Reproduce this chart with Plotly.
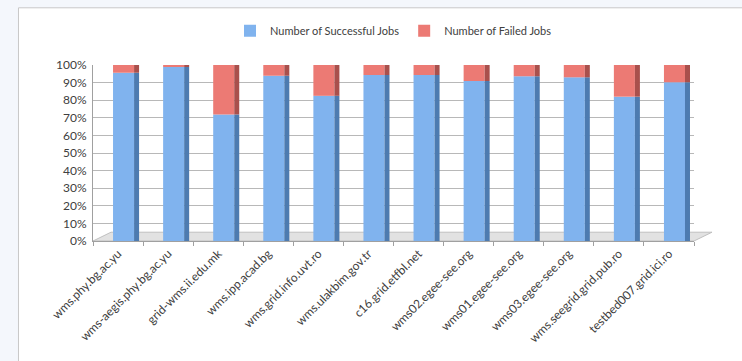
import plotly.graph_objects as go

hosts = ["wms.phy.bg.ac.yu", "wms-aegis.phy.bg.ac.yu", "grid-wms.ii.edu.mk", "wms.ipp.acad.bg",
         "wms.grid.info.uvt.ro", "wms.ulakbim.gov.tr", "c16.grid.etfbl.net", "wms02.egee-see.org",
         "wms01.egee-see.org", "wms03.egee-see.org", "wms.seegrid.grid.pub.ro", "testbed007.grid.ici.ro"]
successful_pct = [95.6, 98.9, 71.9, 93.9, 82.5, 94.3, 94.3, 90.9, 93.6, 93.0, 82.0, 90.2]
failed_pct = [round(100 - s, 1) for s in successful_pct]
y_ticks = [0, 10, 20, 30, 40, 50, 60, 70, 80, 90, 100]
y_tick_labels = [f"{v}%" for v in y_ticks]

BLUE = "#80b3ee"
BLUE_SIDE = "#4d7bb0"
RED = "#ec7a74"
RED_SIDE = "#a9504c"
FONT = "Lato, 'Liberation Sans', sans-serif"

fig = go.Figure()
# front faces
fig.add_trace(go.Bar(x=hosts, y=successful_pct, base=[0] * len(hosts), name="Number of Successful Jobs",
                     marker=dict(color=BLUE, line=dict(width=0)), width=0.42, offset=-0.1))
fig.add_trace(go.Bar(x=hosts, y=failed_pct, base=successful_pct, name="Number of Failed Jobs",
                     marker=dict(color=RED, line=dict(width=0)), width=0.42, offset=-0.1))
# side faces (depth effect)
fig.add_trace(go.Bar(x=hosts, y=successful_pct, base=[0] * len(hosts), showlegend=False, hoverinfo="skip",
                     marker=dict(color=BLUE_SIDE, line=dict(width=0)), width=0.1, offset=0.32))
fig.add_trace(go.Bar(x=hosts, y=failed_pct, base=successful_pct, showlegend=False, hoverinfo="skip",
                     marker=dict(color=RED_SIDE, line=dict(width=0)), width=0.1, offset=0.32))

fig.update_layout(
    width=742, height=361,
    barmode="overlay",
    paper_bgcolor="#f4f7fc",
    plot_bgcolor="rgba(0,0,0,0)",
    margin=dict(l=93, r=48, t=65, b=120),
    font=dict(family=FONT, size=11, color="#404040"),
    legend=dict(orientation="h", x=0.5, xanchor="center", y=0.955, yref="container", yanchor="top",
                font=dict(size=11, color="#404040"), traceorder="normal",
                bgcolor="rgba(0,0,0,0)"),
    shapes=[
        dict(type="rect", xref="paper", yref="paper", x0=-0.124, x1=1.2, y0=-1.0, y1=1.325,
             fillcolor="white", line=dict(color="#c8c8c8", width=1), layer="below"),
        dict(type="path", xref="paper", yref="paper",
             path="M 0,0 L 1,0 L 1.03,0.05 L 0.03,0.05 Z",
             fillcolor="#e2e2e2", line=dict(color="#c0c0c0", width=1), layer="below"),
    ],
    xaxis=dict(tickangle=-45, ticks="outside", tickson="boundaries", ticklen=4, tickcolor="#a0a0a0",
               showline=True, linecolor="#a0a0a0", showgrid=False,
               tickfont=dict(size=12, color="#404040"), range=[-0.5, 11.5]),
    yaxis=dict(range=[0, 100], tickvals=y_ticks, ticktext=y_tick_labels, showgrid=True,
               gridcolor="#b8b8b8", gridwidth=1, showline=True, linecolor="#a0a0a0", zeroline=False,
               tickfont=dict(size=12, color="#404040"), ticks="", ticklabelstandoff=3),
)
fig.write_html("out.html")
